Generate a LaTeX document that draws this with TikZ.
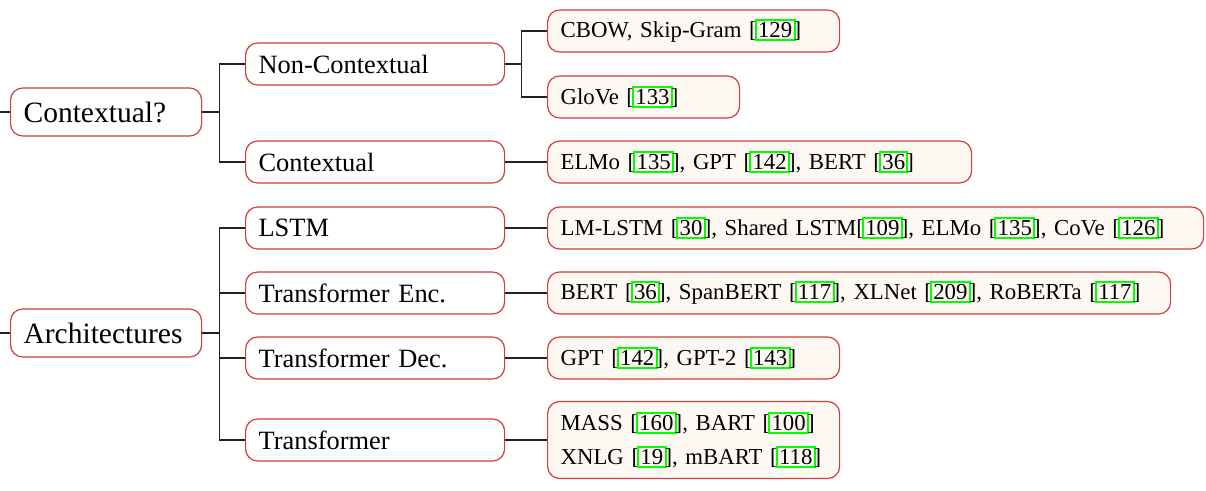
\documentclass[tikz,border=0pt]{standalone}
\usepackage{fontspec}
\setmainfont{Liberation Serif}
\usepackage{xcolor}
\definecolor{boxred}{HTML}{D03E3A}
\definecolor{leaffill}{HTML}{FDF8F1}
\definecolor{linkgreen}{HTML}{00FF00}
\definecolor{treeline}{HTML}{222222}
\setlength{\fboxsep}{1.3pt}
\setlength{\fboxrule}{2pt}
% citation number framed like a hyperlink
\newcommand{\refnum}[1]{[\kern-2pt{\color{linkgreen}\fbox{\color{black}#1}}\kern-2pt]}
\tikzset{
  treebox/.style={draw=boxred, line width=1.2pt, rounded corners=12pt,
    anchor=west, align=left, inner xsep=13pt, inner ysep=0pt},
  rootbox/.style={treebox, fill=white, font=\fontsize{29.5}{34}\selectfont,
    text width=#1-27pt, minimum height=48pt},
  midbox/.style={treebox, fill=white, font=\fontsize{26.4}{30}\selectfont,
    text width=260pt-27pt, minimum height=42pt},
  leafbox/.style={treebox, fill=leaffill, font=\fontsize{22.8}{34}\selectfont,
    text width=#1-27pt, minimum height=42pt},
  branch/.style={draw=treeline, line width=1.2pt},
}
\begin{document}
\begin{tikzpicture}[x=1pt, y=-1pt]
\useasboundingbox (0,0) rectangle (1206,490);

% roots
\node[rootbox=192pt] (ctx) at (10,112) {Contextual?};
\node[rootbox=192pt] (arch) at (10,333) {Architectures};
\coordinate (ctxin) at (0,112);
\coordinate (archin) at (0,333);

% second level
\node[midbox] (noncon) at (245,64) {Non-Contextual};
\node[midbox] (con) at (245,162) {Contextual};
\node[midbox] (lstm) at (245,228) {LSTM};
\node[midbox] (tenc) at (245,293) {Transformer Enc.};
\node[midbox] (tdec) at (245,358) {Transformer Dec.};
\node[midbox] (tfull) at (245,440) {Transformer};

% leaves
\node[leafbox=293pt] (cbow) at (547,31) {CBOW, Skip-Gram \refnum{129}};
\node[leafbox=193pt] (glove) at (547,97) {GloVe \refnum{133}};
\node[leafbox=425pt] (elmo) at (547,162) {ELMo \refnum{135}, GPT \refnum{142}, BERT \refnum{36}};
\node[leafbox=657pt] (lstmleaf) at (547,228) {LM-LSTM \refnum{30}, Shared LSTM\refnum{109}, ELMo \refnum{135}, CoVe \refnum{126}};
\node[leafbox=624pt] (encleaf) at (547,293) {BERT \refnum{36}, SpanBERT \refnum{117}, XLNet \refnum{209}, RoBERTa \refnum{117}};
\node[leafbox=293pt] (decleaf) at (547,358) {GPT \refnum{142}, GPT-2 \refnum{143}};
\node[leafbox=293pt, minimum height=77pt] (fullleaf) at (547,440) {MASS \refnum{160}, BART \refnum{100}\\XNLG \refnum{19}, mBART \refnum{118}};

% connectors
\draw[branch] (ctxin) -- (ctx.west);
\draw[branch] (archin) -- (arch.west);

\draw[branch] (ctx.east) -- ++(17,0) |- (noncon.west);
\draw[branch] (ctx.east) -- ++(17,0) |- (con.west);

\draw[branch] (arch.east) -- ++(17,0) |- (lstm.west);
\draw[branch] (arch.east) -- ++(17,0) |- (tenc.west);
\draw[branch] (arch.east) -- ++(17,0) |- (tdec.west);
\draw[branch] (arch.east) -- ++(17,0) |- (tfull.west);

\draw[branch] (noncon.east) -- ++(16,0) |- (cbow.west);
\draw[branch] (noncon.east) -- ++(16,0) |- (glove.west);
\draw[branch] (con.east) -- (elmo.west);
\draw[branch] (lstm.east) -- (lstmleaf.west);
\draw[branch] (tenc.east) -- (encleaf.west);
\draw[branch] (tdec.east) -- (decleaf.west);
\draw[branch] (tfull.east) -- (fullleaf.west);
\end{tikzpicture}
\end{document}
